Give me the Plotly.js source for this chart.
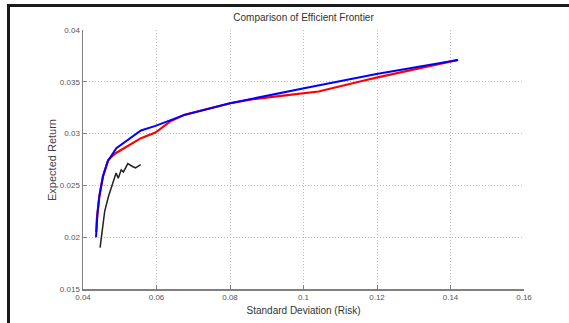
<!DOCTYPE html>
<html>
<head>
<meta charset="utf-8">
<script src="https://cdn.plot.ly/plotly-3.0.1.min.js"></script>
<style>
  html, body { margin: 0; padding: 0; background: #fff; }
  #chart { width: 569px; height: 323px; position: relative; }
  #frame { position: absolute; left: 7px; top: 4px; right: 0; bottom: 0;
           border-top: 3px solid #1a1a1a; border-left: 3px solid #1a1a1a;
           pointer-events: none; box-sizing: border-box; }
</style>
</head>
<body>
<div id="chart"></div>
<div id="frame"></div>
<script>
// ---- data ----
const blueX = [0.04355, 0.04394, 0.04444, 0.04542, 0.04670, 0.04907, 0.05578, 0.05972, 0.06761, 0.08003, 0.10015, 0.11987, 0.14205];
const blueY = [0.02000, 0.02233, 0.02393, 0.02586, 0.02731, 0.02859, 0.03030, 0.03075, 0.03181, 0.03293, 0.03438, 0.03576, 0.03711];

const redX = [0.04360, 0.04375, 0.04444, 0.04542, 0.04690, 0.04887, 0.05578, 0.05972, 0.06366, 0.06761, 0.08003, 0.08634, 0.09620, 0.10409, 0.11592, 0.11987, 0.14205];
const redY = [0.02050, 0.02168, 0.02393, 0.02586, 0.02747, 0.02811, 0.02956, 0.03010, 0.03116, 0.03181, 0.03293, 0.03332, 0.03373, 0.03406, 0.03508, 0.03540, 0.03711];

const blackX = [0.04465, 0.04590, 0.04690, 0.04790, 0.04900, 0.04960, 0.05040, 0.05100, 0.05220, 0.05360, 0.05430, 0.05570];
const blackY = [0.01900, 0.02250, 0.02390, 0.02500, 0.02620, 0.02570, 0.02650, 0.02630, 0.02710, 0.02680, 0.02670, 0.02700];

const xTickVals = [0.04, 0.06, 0.08, 0.1, 0.12, 0.14, 0.16];
const xTickText = ["0.04", "0.06", "0.08", "0.1", "0.12", "0.14", "0.16"];
const yTickVals = [0.015, 0.02, 0.025, 0.03, 0.035, 0.04];
const yTickText = ["0.015", "0.02", "0.025", "0.03", "0.035", "0.04"];

const chartTitle = "Comparison of Efficient Frontier";
const xTitle = "Standard Deviation (Risk)";
const yTitle = "Expected Return";

// ---- chart ----
const narrow = "'Liberation Sans Narrow', 'Arial Narrow', 'Liberation Sans', Arial, sans-serif";

const traces = [
  { x: blackX, y: blackY, mode: "lines", line: { color: "#222222", width: 1.5 }, hoverinfo: "skip" },
  { x: redX, y: redY, mode: "lines", line: { color: "#ff0000", width: 2.2 }, hoverinfo: "skip" },
  { x: blueX, y: blueY, mode: "lines", line: { color: "#0000ff", width: 2 }, hoverinfo: "skip" }
];

const axisCommon = {
  showline: true, linecolor: "#808080", linewidth: 1.5,
  ticks: "inside", ticklen: 4, tickcolor: "#808080", tickwidth: 1,
  showgrid: true, gridcolor: "#bdbdbd", griddash: "1px,2px", gridwidth: 1,
  zeroline: false, fixedrange: true,
  tickfont: { family: narrow, size: 8, color: "#555" },
  tickmode: "array"
};

const layout = {
  width: 569, height: 323,
  margin: { l: 83, r: 44.5, t: 30, b: 34, pad: 0 },
  paper_bgcolor: "#ffffff", plot_bgcolor: "#ffffff",
  showlegend: false,
  title: { text: chartTitle, font: { family: narrow, size: 10, color: "#333" },
           x: 0.5335, xanchor: "center", y: 0.947, yanchor: "middle" },
  xaxis: Object.assign({}, axisCommon, {
    range: [0.04, 0.16], tickvals: xTickVals, ticktext: xTickText,
    title: { text: xTitle, font: { family: narrow, size: 10, color: "#333" }, standoff: 6 }
  }),
  yaxis: Object.assign({}, axisCommon, {
    range: [0.015, 0.04], tickvals: yTickVals, ticktext: yTickText
  }),
  annotations: [{
    text: yTitle, xref: "paper", yref: "paper", x: -0.0715, y: 0.5,
    xanchor: "center", yanchor: "middle", textangle: -90, showarrow: false,
    font: { family: "'Liberation Sans', Arial, sans-serif", size: 11, color: "#444" }
  }]
};

Plotly.newPlot("chart", traces, layout, { staticPlot: true, displayModeBar: false });
</script>
</body>
</html>
